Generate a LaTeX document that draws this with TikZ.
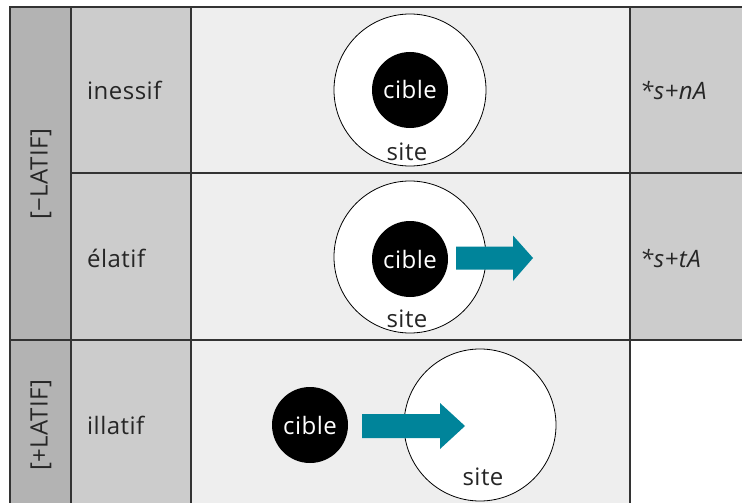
\documentclass[tikz,border=0pt]{standalone}
\usepackage{fontspec}
\setmainfont{Open Sans}[LetterSpace=2]
\usetikzlibrary{calc}
\definecolor{colA}{HTML}{B3B3B3}
\definecolor{colB}{HTML}{CCCCCC}
\definecolor{colC}{HTML}{EEEEEE}
\definecolor{teal}{HTML}{00849A}
\definecolor{gridc}{HTML}{333333}
\tikzset{
  grid/.style={draw=gridc, line width=1.4pt},
  sitecirc/.style={circle, draw=black, fill=white, line width=0.8pt, minimum size=152pt, inner sep=0pt},
  ciblecirc/.style={circle, fill=black, text=white, minimum size=76pt, inner sep=0pt, font=\fontsize{24}{28}\selectfont},
  lbl/.style={font=\fontsize{24}{28}\selectfont, inner sep=0pt, text=black!85},
  arr/.style={fill=teal},
}
\begin{document}
\begin{tikzpicture}[x=1pt,y=-1pt]
\useasboundingbox (0,0) rectangle (742,503);
% backgrounds
\fill[colA] (10,7) rectangle (71,503);
\fill[colB] (71,7) rectangle (191,503);
\fill[colC] (191,7) rectangle (630,503);
\fill[colB] (630,7) rectangle (742,340);
% grid
\draw[grid] (742,7) -- (10,7) -- (10,503);
\draw[grid] (71,7) -- (71,503);
\draw[grid] (191,7) -- (191,503);
\draw[grid] (630,7) -- (630,503);
\draw[grid] (71,173) -- (742,173);
\draw[grid] (10,340) -- (742,340);
% left headers
\node[lbl, rotate=90] (neg) at (41,174) {[−LATIF]};
\node[lbl, rotate=90] (pos) at (41,425) {[+LATIF]};
\node[lbl, anchor=west] (iness) at (87,90) {inessif};
\node[lbl, anchor=west] (elat) at (87,258) {élatif};
\node[lbl, anchor=west] (illat) at (87,425) {illatif};
\node[lbl, anchor=west] (f1) at (640,90) {\itshape *s+nA};
\node[lbl, anchor=west] (f2) at (640,258) {\itshape *s+tA};
% row 1
\node[sitecirc] (site1) at (410,90) {};
\node[ciblecirc] (cible1) at (410,90) {cible};
\node[lbl] (s1) at (407,152) {site};
% row 2
\node[sitecirc] (site2) at (410,257) {};
\node[ciblecirc] (cible2) at (410,259) {cible};
\node[lbl] (s2) at (407,319) {site};
\coordinate (a2s) at (456,258);
\fill[arr] ($(a2s)+(0,-11.5)$) -- ++(57,0) -- ++(0,-11) -- (533,258) -- (513,281) -- ++(0,-11.5) -- ($(a2s)+(0,11.5)$) -- cycle;
% row 3
\node[sitecirc] (site3) at (480,425) {};
\node[ciblecirc] (cible3) at (310,425) {cible};
\node[lbl] (s3) at (483,477) {site};
\coordinate (a3s) at (362,426);
\fill[arr] ($(a3s)+(0,-12)$) -- ++(78,0) -- ++(0,-11) -- (465,426) -- (440,449) -- ++(0,-11) -- ($(a3s)+(0,12)$) -- cycle;
\end{tikzpicture}
\end{document}
